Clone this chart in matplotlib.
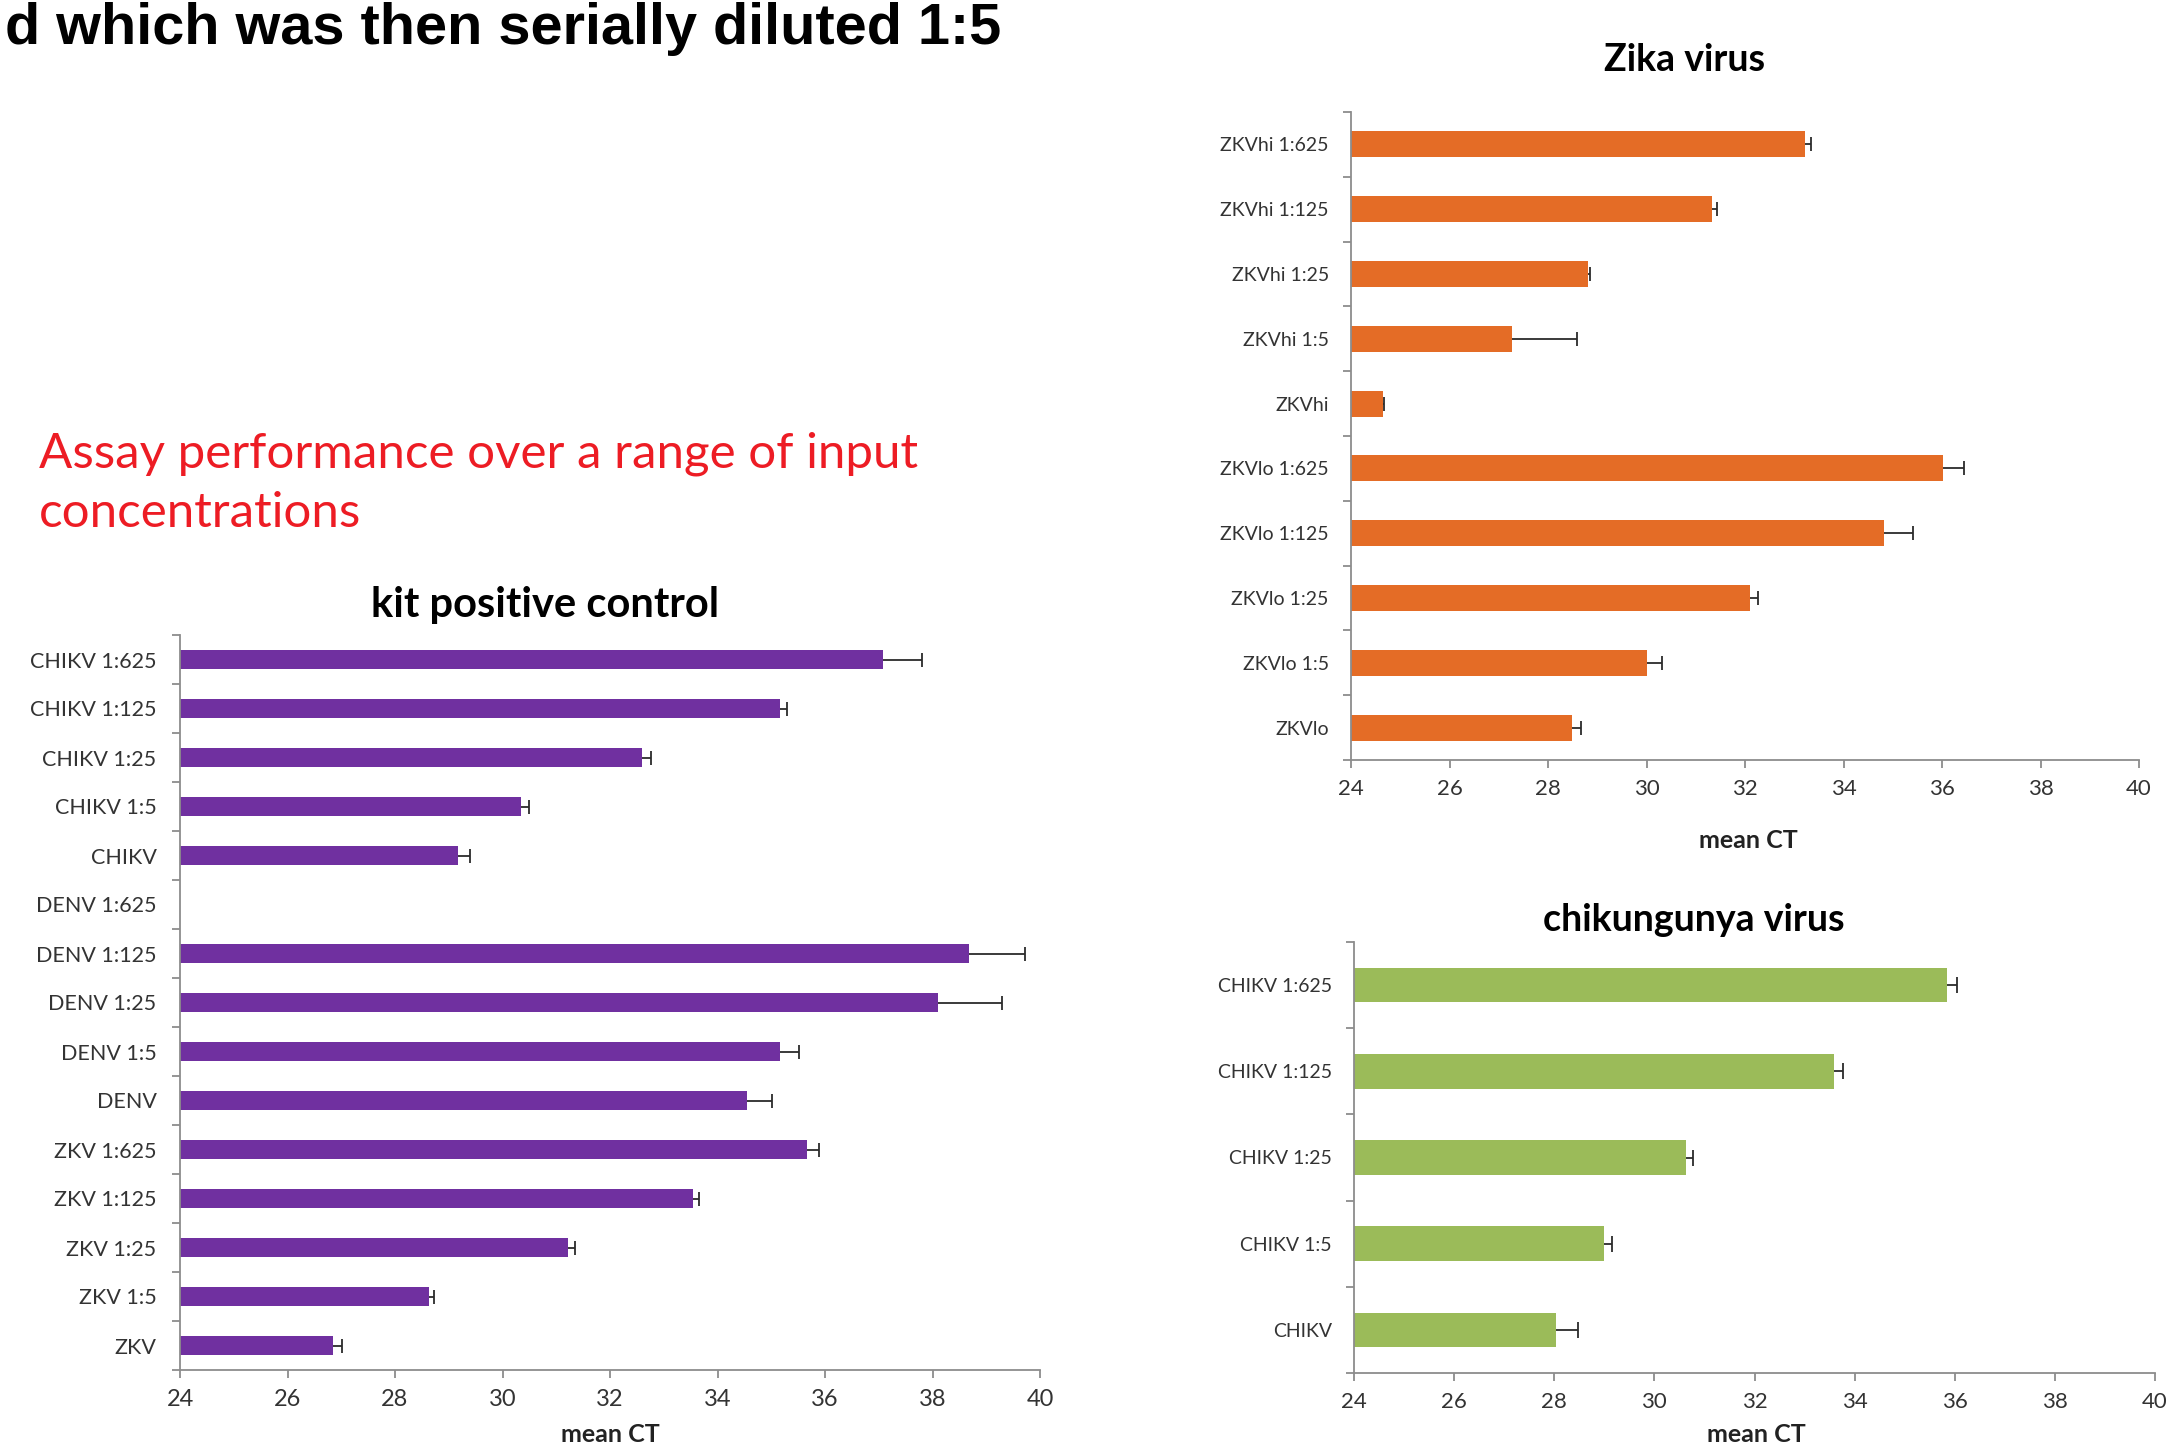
import numpy as np
import matplotlib
matplotlib.use("Agg")
import matplotlib.pyplot as plt
from matplotlib.ticker import FixedLocator

# ---------------- data ----------------
kit_labels = ["CHIKV 1:625", "CHIKV 1:125", "CHIKV 1:25", "CHIKV 1:5", "CHIKV",
              "DENV 1:625", "DENV 1:125", "DENV 1:25", "DENV 1:5", "DENV",
              "ZKV 1:625", "ZKV 1:125", "ZKV 1:25", "ZKV 1:5", "ZKV"]
kit_values = [37.07, 35.16, 32.59, 30.35, 29.17,
              np.nan, 38.67, 38.11, 35.16, 34.55,
              35.67, 33.55, 31.21, 28.63, 26.85]
kit_errors = [0.73, 0.14, 0.17, 0.15, 0.22,
              np.nan, 1.05, 1.19, 0.35, 0.46,
              0.21, 0.10, 0.13, 0.10, 0.17]

zika_labels = ["ZKVhi 1:625", "ZKVhi 1:125", "ZKVhi 1:25", "ZKVhi 1:5", "ZKVhi",
               "ZKVlo 1:625", "ZKVlo 1:125", "ZKVlo 1:25", "ZKVlo 1:5", "ZKVlo"]
zika_values = [33.22, 31.33, 28.82, 27.27, 24.64,
               36.02, 34.83, 32.10, 30.02, 28.48]
zika_errors = [0.13, 0.11, 0.03, 1.32, 0.02,
               0.42, 0.59, 0.17, 0.29, 0.20]

chik_labels = ["CHIKV 1:625", "CHIKV 1:125", "CHIKV 1:25", "CHIKV 1:5", "CHIKV"]
chik_values = [35.85, 33.58, 30.63, 29.00, 28.04]
chik_errors = [0.20, 0.19, 0.14, 0.16, 0.44]

x_ticks = [24, 26, 28, 30, 32, 34, 36, 38, 40]

heading_text = "d which was then serially diluted 1:5"
red_line1 = "Assay performance over a range of input"
red_line2 = "concentrations"

# ---------------- layout ----------------
W, H = 2169, 1448
DPI = 100
fig = plt.figure(figsize=(W / DPI, H / DPI), dpi=DPI)
fig.patch.set_facecolor("white")

CHART_FONT = ["Lato", "DejaVu Sans"]
AXIS_GREY = "#8c8c8c"
LABEL_COL = "#333333"
ERR_COL = "#2b2b2b"


def rect(x0, x1, ytop, ybot):
    return [x0 / W, 1 - ybot / H, (x1 - x0) / W, (ybot - ytop) / H]


def px(x, y):
    return x / W, 1 - y / H


def draw_chart(ax, labels, values, errors, color, ylabel_size, xlabel_size, pad, cap):
    n = len(labels)
    y = np.arange(n)
    vals = np.array(values, dtype=float)
    errs = np.array(errors, dtype=float)
    m = ~np.isnan(vals)
    ax.barh(y[m], vals[m], height=0.4, color=color, zorder=2)
    # plus-direction error bars with a single cap at the outer end
    ax.errorbar(vals[m], y[m], xerr=[np.zeros(m.sum()), errs[m]], fmt="none",
                ecolor=ERR_COL, elinewidth=1.3, capsize=0, zorder=3)
    ax.scatter(vals[m] + errs[m], y[m], marker="|", s=cap, color=ERR_COL,
               linewidths=1.3, zorder=3)
    ax.set_xlim(24, 40)
    ax.set_ylim(n - 0.5, -0.5)
    ax.set_yticks(y)
    ax.set_yticklabels(labels, fontsize=ylabel_size, family=CHART_FONT, color=LABEL_COL)
    ax.yaxis.set_minor_locator(FixedLocator(np.arange(-0.5, n, 1.0)))
    ax.tick_params(axis="y", which="major", length=0, pad=pad)
    ax.tick_params(axis="y", which="minor", length=6, width=1.3, color=AXIS_GREY)
    ax.set_xticks(x_ticks)
    ax.set_xticklabels([str(t) for t in x_ticks], fontsize=xlabel_size,
                       family=CHART_FONT, color=LABEL_COL)
    ax.tick_params(axis="x", which="major", length=6, width=1.3, color=AXIS_GREY, pad=8)
    for s in ["top", "right"]:
        ax.spines[s].set_visible(False)
    for s in ["left", "bottom"]:
        ax.spines[s].set_color(AXIS_GREY)
        ax.spines[s].set_linewidth(1.3)
    ax.set_facecolor("none")


# kit positive control
ax1 = fig.add_axes(rect(180, 1040, 635, 1370))
draw_chart(ax1, kit_labels, kit_values, kit_errors, "#7030A0", 15.5, 17, 17, 90)
fig.text(*px(545, 605), "kit positive control", ha="center", va="center",
         fontsize=30, fontweight="bold", family=CHART_FONT, color="black")
fig.text(*px(610, 1434), "mean CT", ha="center", va="center",
         fontsize=18, fontweight="bold", family=CHART_FONT, color="#222222")

# Zika virus
ax2 = fig.add_axes(rect(1351, 2139, 112, 760))
draw_chart(ax2, zika_labels, zika_values, zika_errors, "#E46C26", 14, 16, 16, 110)
fig.text(*px(1685, 60), "Zika virus", ha="center", va="center",
         fontsize=27, fontweight="bold", family=CHART_FONT, color="black")
fig.text(*px(1748, 840), "mean CT", ha="center", va="center",
         fontsize=18, fontweight="bold", family=CHART_FONT, color="#222222")

# chikungunya virus
ax3 = fig.add_axes(rect(1354, 2155, 942, 1373))
draw_chart(ax3, chik_labels, chik_values, chik_errors, "#9BBB59", 14, 16, 16, 130)
fig.text(*px(1694, 920), "chikungunya virus", ha="center", va="center",
         fontsize=27, fontweight="bold", family=CHART_FONT, color="black")
fig.text(*px(1756, 1434), "mean CT", ha="center", va="center",
         fontsize=18, fontweight="bold", family=CHART_FONT, color="#222222")

# slide texts
fig.text(*px(1001, 44), heading_text, ha="right", va="baseline",
         fontsize=41.5, fontweight="bold", family=["Liberation Sans", "DejaVu Sans"],
         color="black")
fig.text(*px(39, 467), red_line1, ha="left", va="baseline",
         fontsize=35.5, family=["Lato", "DejaVu Sans"], color="#ED1C24")
fig.text(*px(39, 527), red_line2, ha="left", va="baseline",
         fontsize=35.5, family=["Lato", "DejaVu Sans"], color="#ED1C24")

fig.savefig("out.png", dpi=DPI, facecolor="white")
